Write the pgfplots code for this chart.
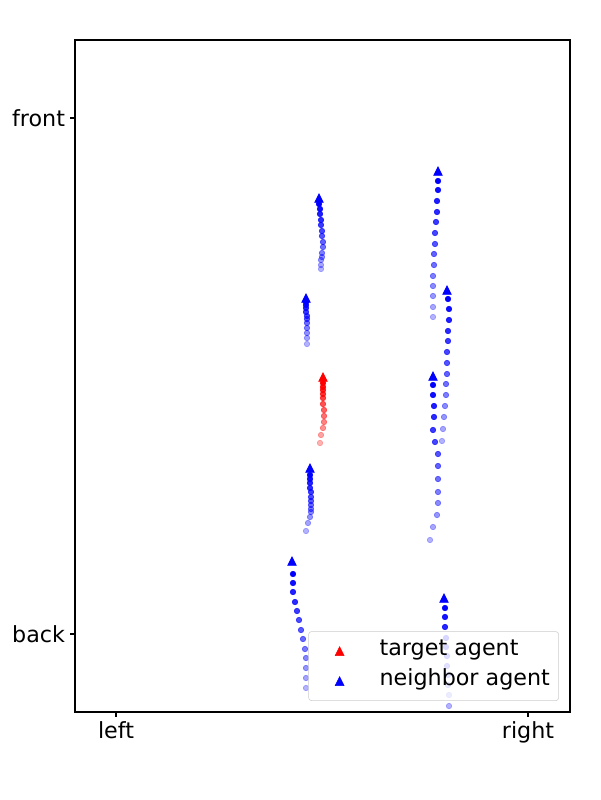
\documentclass[border=0pt]{standalone}
\usepackage{fontspec}
\setmainfont{DejaVu Sans}
\usepackage{pgfplots}
\pgfplotsset{compat=1.18}

% matplotlib-style triangle ('^')
\pgfdeclareplotmark{mtri}{%
  \pgfpathmoveto{\pgfqpoint{0pt}{\pgfplotmarksize}}%
  \pgfpathlineto{\pgfqpoint{-\pgfplotmarksize}{-\pgfplotmarksize}}%
  \pgfpathlineto{\pgfqpoint{\pgfplotmarksize}{-\pgfplotmarksize}}%
  \pgfpathclose\pgfusepathqfillstroke}

\pgfplotsset{
  trail/.style={only marks, mark=*, mark size=2pt, scatter, forget plot,
    point meta=\thisrow{a},
    scatter/use mapped color={draw=#1, fill=#1},
    visualization depends on={\thisrow{a}\as\alp},
    scatter/@pre marker code/.append code={\pgfsetfillopacity{\alp}\pgfsetstrokeopacity{\alp}}},
  head/.style={only marks, mark=mtri, mark size=3.2pt, mark options={draw=#1, fill=#1, line width=0.3pt}},
}

\begin{document}
\begin{tikzpicture}[font=\fontsize{16}{19.2}\selectfont]
\begin{axis}[
  scale only axis, width=356.4pt, height=483.84pt,
  xmin=75, xmax=570, ymin=40, ymax=712, y dir=reverse,
  xtick={116,528}, xticklabels={left,right},
  ytick={118,634}, yticklabels={front,back},
  tick align=outside, tick pos=left, major tick length=3.5pt,
  tick style={black, line width=0.8pt},
  axis line style={line width=0.8pt},
  xticklabel style={inner sep=3.5pt},
  yticklabel style={inner sep=3.5pt},
  legend cell align=left,
  legend image code/.code={%
    \path[draw=none, fill=none] (0pt,-3pt) rectangle (32pt,3pt);
    \draw[#1, fill opacity=1] plot coordinates {(16pt,0pt)};},
  legend style={at={(axis description cs:1,0)}, anchor=south east,
    xshift=-8pt, yshift=8pt, draw=black!20, rounded corners=2pt,
    fill=white, fill opacity=0.8, draw opacity=1, text opacity=1,
    inner xsep=6.3pt, inner ysep=7.25pt, row sep=8pt,
    nodes={inner sep=0pt, text height=10pt, text depth=3.6pt},
    /tikz/every odd column/.append style={column sep=12.8pt}},
]
% red target trail
\addplot[trail=red] table {
x y a
323 383 1.00
323 387 0.94
323 390 0.87
323 394 0.81
323 398 0.75
323 404 0.68
324 410 0.62
324 416 0.56
324 422 0.49
323 428 0.43
321 435 0.36
320 443 0.30
};
% neighbor trails
\addplot[trail=blue] table {
x y a
319 204 1.00
320 209 0.95
320 214 0.89
321 220 0.84
321 225 0.78
322 231 0.73
322 236 0.68
323 242 0.62
323 247 0.57
322 253 0.51
322 257 0.46
321 260 0.41
321 265 0.35
321 269 0.30
};
\addplot[trail=blue] table {
x y a
306 302 1.00
306 305 0.93
306 308 0.86
306 312 0.79
307 316 0.72
307 319 0.65
307 323 0.58
307 328 0.51
307 333 0.44
307 338 0.37
307 344 0.30
};
\addplot[trail=blue] table {
x y a
310 475 1.00
310 479 0.94
310 483 0.88
310 488 0.83
311 492 0.77
311 497 0.71
311 501 0.65
311 505 0.59
311 509 0.53
311 512 0.48
310 517 0.42
308 523 0.36
306 531 0.30
};
\addplot[trail=blue] table {
x y a
293 574 1.00
293 583 0.94
293 592 0.88
295 602 0.83
297 611 0.77
299 620 0.71
301 630 0.65
303 639 0.59
305 649 0.53
306 658 0.48
306 668 0.42
306 678 0.36
306 688 0.30
};
\addplot[trail=blue] table {
x y a
438 181 1.00
438 190 0.95
437 201 0.89
437 212 0.84
436 222 0.78
435 233 0.73
435 244 0.68
434 254 0.62
434 265 0.57
433 276 0.51
433 286 0.46
433 296 0.41
433 307 0.35
433 317 0.30
};
\addplot[trail=blue] table {
x y a
448 299 1.00
449 309 0.95
449 320 0.89
448 331 0.84
448 341 0.78
447 352 0.73
447 363 0.68
447 374 0.62
446 384 0.57
446 395 0.51
445 406 0.46
444 417 0.41
443 429 0.35
442 441 0.30
};
\addplot[trail=blue] table {
x y a
433 385 1.00
433 395 0.95
434 406 0.89
434 417 0.84
433 430 0.78
435 442 0.73
438 454 0.68
438 466 0.62
438 479 0.57
438 492 0.51
438 503 0.46
437 515 0.41
433 527 0.35
430 540 0.30
};
\addplot[trail=blue] table {
x y a
445 608 1.00
445 617 0.93
445 627 0.86
446 638 0.79
446 647 0.72
447 656 0.65
447 666 0.58
448 675 0.51
448 685 0.44
449 695 0.37
449 706 0.30
};
% heads
\addplot[head=red] coordinates {(323,377)};
\addlegendentry{target agent}
\addplot[head=blue] coordinates {(319,198) (306,298) (310,468) (292,561)
  (438,171) (447,290) (433,376) (444,598)};
\addlegendentry{neighbor agent}
\end{axis}
\path ([shift={(-54pt,-63.36pt)}]current axis.south west)
  rectangle ([shift={(21.6pt,28.8pt)}]current axis.north east);
\end{tikzpicture}
\end{document}
